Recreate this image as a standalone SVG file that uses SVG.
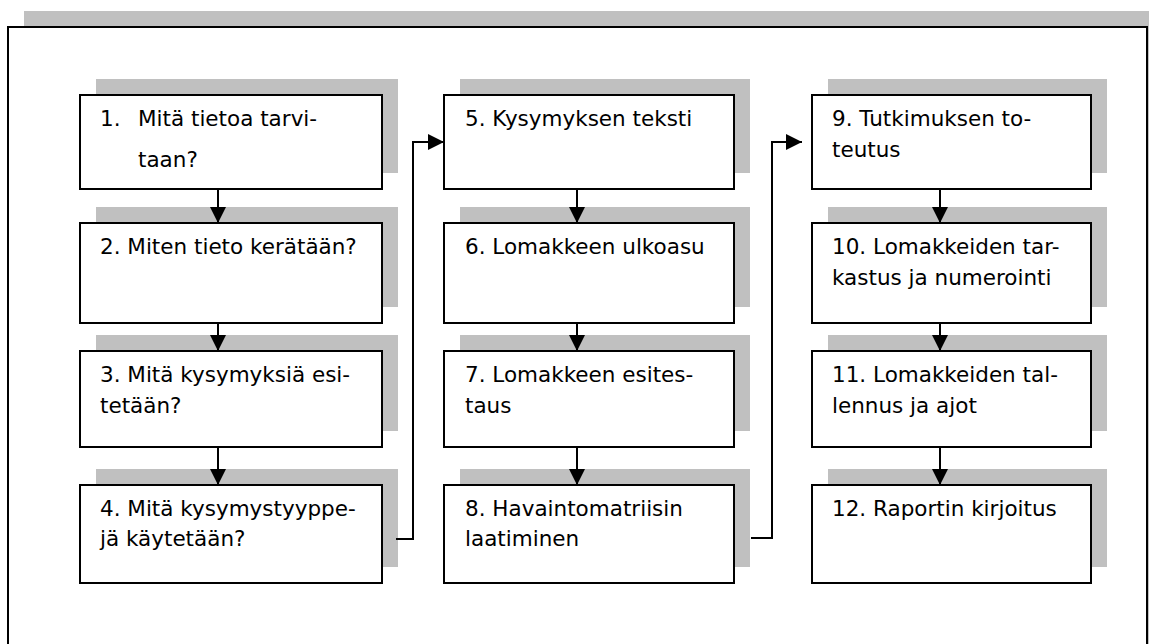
<svg xmlns="http://www.w3.org/2000/svg" width="1149" height="644" viewBox="0 0 1149 644">
<style>
.sh{fill:#c0c0c0;stroke:none}
.bx{fill:#fff;stroke:#000;stroke-width:2}
.t{font-family:"DejaVu Sans","Liberation Sans",sans-serif;font-size:21.5px;fill:#000}
.ln{fill:none;stroke:#000;stroke-width:2}
</style>
<defs>
<marker id="ah" viewBox="0 0 16 16" refX="16" refY="8" markerWidth="16" markerHeight="16" markerUnits="userSpaceOnUse" orient="auto">
<path d="M0,0 L16,8 L0,16 Z" fill="#000"/>
</marker>
</defs>
<rect width="1149" height="644" fill="#fff"/>
<g id="frame">
<rect class="sh" x="24" y="11" width="1140" height="660"/>
<rect class="bx" x="8" y="27" width="1139" height="640"/>
</g>
<g id="n1"><rect class="sh" x="96" y="79" width="302" height="94"/><rect class="bx" x="80" y="95" width="302" height="94"/>
<text class="t" x="100" y="126">1.</text><text class="t" x="138" y="126">Mitä tietoa tarvi-</text><text class="t" x="138" y="167">taan?</text></g>
<g id="n2"><rect class="sh" x="96" y="207" width="302" height="100"/><rect class="bx" x="80" y="223" width="302" height="100"/>
<text class="t" x="100" y="254">2. Miten tieto kerätään?</text></g>
<g id="n3"><rect class="sh" x="96" y="335" width="302" height="96"/><rect class="bx" x="80" y="351" width="302" height="96"/>
<text class="t" x="100" y="382">3. Mitä kysymyksiä esi-</text><text class="t" x="100" y="413">tetään?</text></g>
<g id="n4"><rect class="sh" x="96" y="469" width="302" height="98"/><rect class="bx" x="80" y="485" width="302" height="98"/>
<text class="t" x="100" y="516">4. Mitä kysymystyyppe-</text><text class="t" x="100" y="546">jä käytetään?</text></g>
<g id="n5"><rect class="sh" x="460" y="79" width="290" height="94"/><rect class="bx" x="444" y="95" width="290" height="94"/>
<text class="t" x="465" y="126">5. Kysymyksen teksti</text></g>
<g id="n6"><rect class="sh" x="460" y="207" width="290" height="100"/><rect class="bx" x="444" y="223" width="290" height="100"/>
<text class="t" x="465" y="254">6. Lomakkeen ulkoasu</text></g>
<g id="n7"><rect class="sh" x="460" y="335" width="290" height="96"/><rect class="bx" x="444" y="351" width="290" height="96"/>
<text class="t" x="465" y="382">7. Lomakkeen esites-</text><text class="t" x="465" y="413">taus</text></g>
<g id="n8"><rect class="sh" x="460" y="469" width="290" height="98"/><rect class="bx" x="444" y="485" width="290" height="98"/>
<text class="t" x="465" y="516">8. Havaintomatriisin</text><text class="t" x="465" y="546">laatiminen</text></g>
<g id="n9"><rect class="sh" x="828" y="79" width="279" height="94"/><rect class="bx" x="812" y="95" width="279" height="94"/>
<text class="t" x="832" y="126">9. Tutkimuksen to-</text><text class="t" x="832" y="157">teutus</text></g>
<g id="n10"><rect class="sh" x="828" y="207" width="279" height="100"/><rect class="bx" x="812" y="223" width="279" height="100"/>
<text class="t" x="832" y="254">10. Lomakkeiden tar-</text><text class="t" x="832" y="285">kastus ja numerointi</text></g>
<g id="n11"><rect class="sh" x="828" y="335" width="279" height="96"/><rect class="bx" x="812" y="351" width="279" height="96"/>
<text class="t" x="832" y="382">11. Lomakkeiden tal-</text><text class="t" x="832" y="413">lennus ja ajot</text></g>
<g id="n12"><rect class="sh" x="828" y="469" width="279" height="98"/><rect class="bx" x="812" y="485" width="279" height="98"/>
<text class="t" x="832" y="516">12. Raportin kirjoitus</text></g>
<g id="connectors">
<path class="ln" d="M218,189 V223" marker-end="url(#ah)"/>
<path class="ln" d="M218,323 V351" marker-end="url(#ah)"/>
<path class="ln" d="M218,447 V485" marker-end="url(#ah)"/>
<path class="ln" d="M577,189 V223" marker-end="url(#ah)"/>
<path class="ln" d="M577,323 V351" marker-end="url(#ah)"/>
<path class="ln" d="M577,447 V485" marker-end="url(#ah)"/>
<path class="ln" d="M940,189 V223" marker-end="url(#ah)"/>
<path class="ln" d="M940,323 V351" marker-end="url(#ah)"/>
<path class="ln" d="M940,447 V485" marker-end="url(#ah)"/>
<path class="ln" d="M396,539 H413 V142 H444" marker-end="url(#ah)"/>
<path class="ln" d="M751,538 H772 V142 H802" marker-end="url(#ah)"/>
</g>
</svg>
